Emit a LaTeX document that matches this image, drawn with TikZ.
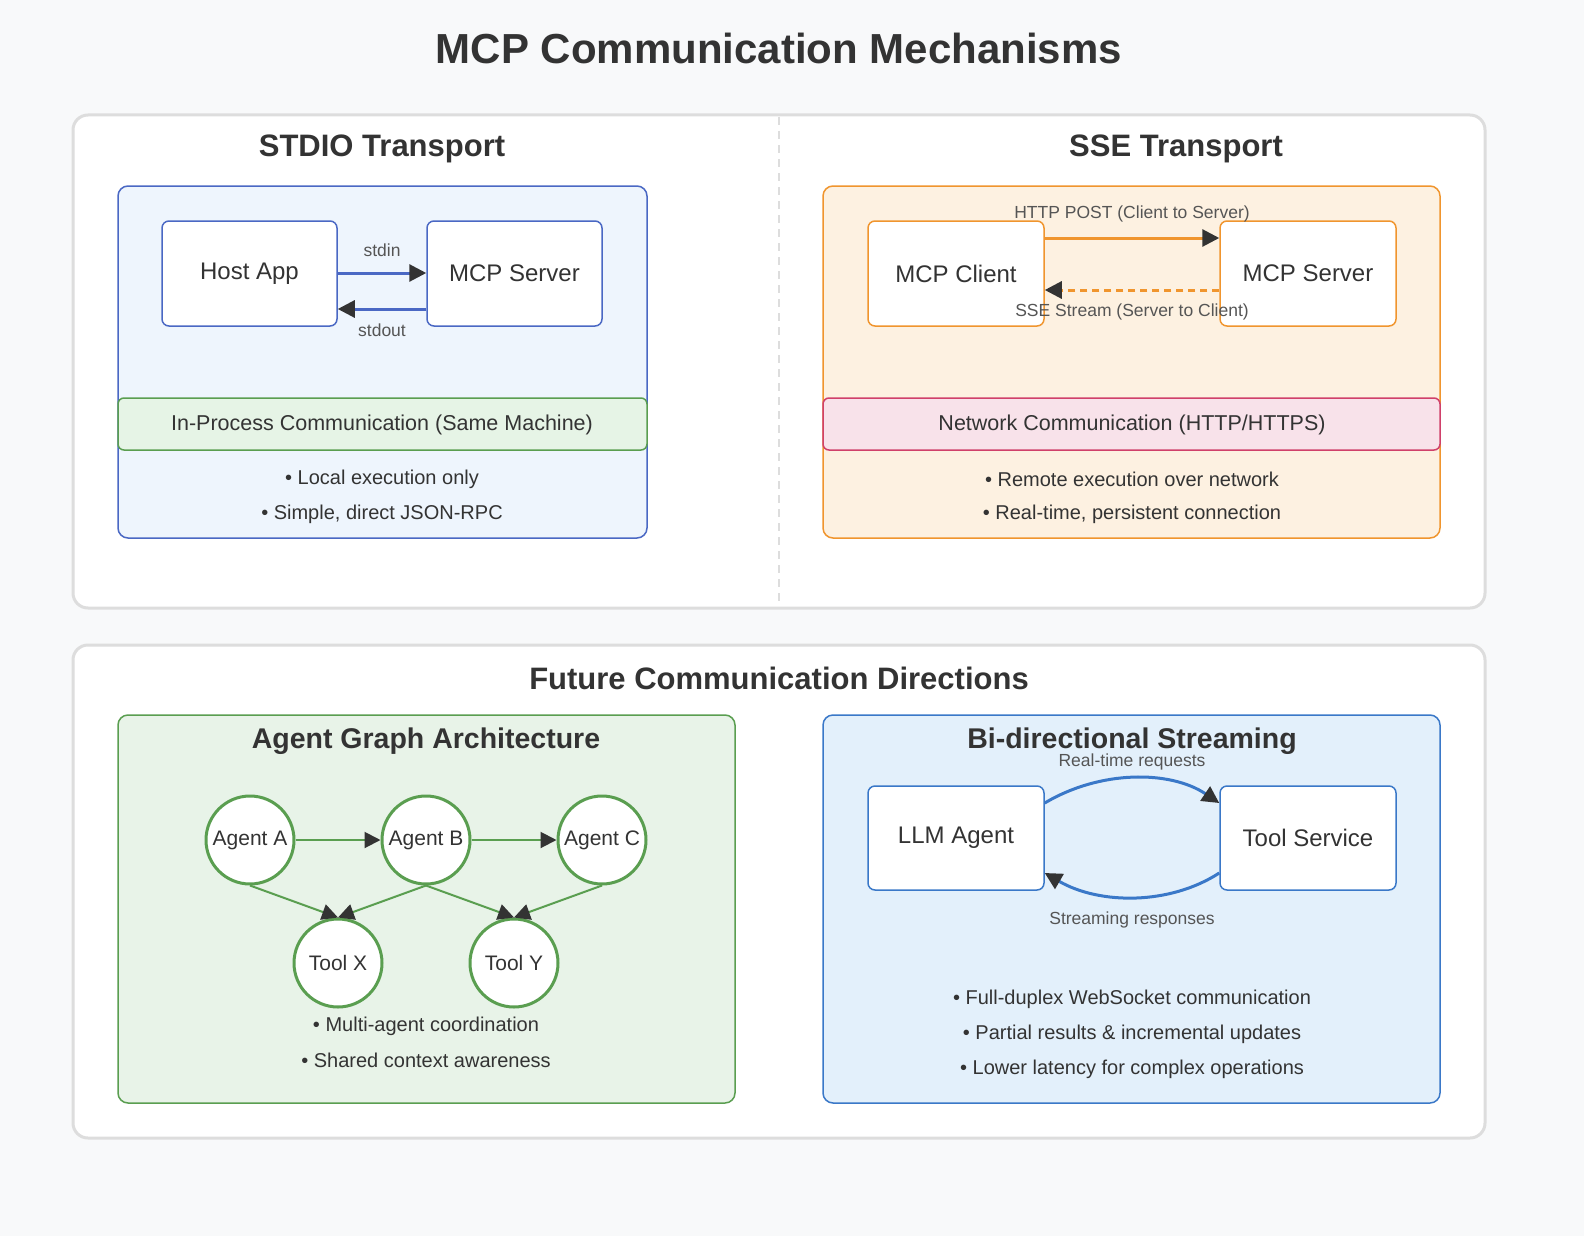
\documentclass[tikz,border=0pt]{standalone}
\usepackage{fontspec}
\setmainfont{Liberation Sans}
\usetikzlibrary{arrows.meta}
\definecolor{bg}{HTML}{F8F9FA}
\definecolor{panel}{HTML}{DDDDDD}
\definecolor{txt}{HTML}{333333}
\definecolor{sub}{HTML}{555555}
\definecolor{bl}{HTML}{4A68C4}
\definecolor{blfill}{HTML}{EEF5FD}
\definecolor{gr}{HTML}{5A9E50}
\definecolor{grfill}{HTML}{E8F3E8}
\definecolor{stripgr}{HTML}{E6F4E6}
\definecolor{or}{HTML}{F0952E}
\definecolor{orfill}{HTML}{FDF1E1}
\definecolor{pk}{HTML}{D0406A}
\definecolor{pkfill}{HTML}{F8E2EA}
\definecolor{bb}{HTML}{3A78C8}
\definecolor{bbfill}{HTML}{E3F0FB}
\tikzset{
  fs/.style={font=\fontsize{#1}{#1}\selectfont},
  panelbox/.style={draw=panel,line width=3pt,fill=white,rounded corners=15pt},
  box/.style={rounded corners=10pt,line width=1.5pt},
  inner/.style={draw=#1,fill=white,rounded corners=7pt,line width=1.5pt},
  lbl/.style={fs=24,text=txt},
  bul/.style={fs=20,text=txt},
  sm/.style={fs=17.5,text=sub},
  head/.style={font=\bfseries\fontsize{31}{31}\selectfont,text=txt},
  head2/.style={font=\bfseries\fontsize{28.5}{28.5}\selectfont,text=txt},
  arr/.style={line width=3pt,draw=#1,-{Triangle[length=17pt,width=17pt,color=txt]}},
  circ/.style={circle,draw=gr,fill=white,line width=3pt,minimum size=88pt,inner sep=0pt,fs=21,text=txt},
  garr/.style={line width=2pt,draw=gr,-{Triangle[length=16pt,width=16pt,color=txt]}}
}
\begin{document}
\begin{tikzpicture}[x=1pt,y=-1pt]
\fill[bg] (0,0) rectangle (1584,1236);
\node[font=\bfseries\fontsize{42}{42}\selectfont,text=txt] (title) at (779,48) {MCP Communication Mechanisms};
% top panel
\draw[panelbox] (73,115) rectangle (1485,608);
\draw[panel,line width=2.5pt,dash pattern=on 8pt off 6pt] (779,117) -- (779,606);
\node[head] (t1) at (382,149) {STDIO Transport};
\node[head] (t2) at (1176,149) {SSE Transport};
% STDIO
\draw[box,draw=bl,fill=blfill] (118,186) rectangle (647,538);
\node[inner=bl,minimum width=175pt,minimum height=105pt,lbl] (host) at (249.5,273.5) {Host App};
\node[inner=bl,minimum width=175pt,minimum height=105pt,lbl] (srv1) at (514.5,273.5) {MCP Server};
\draw[arr=bl] (host.east |- 0,273) -- (srv1.west |- 0,273);
\draw[arr=bl] (srv1.west |- 0,309) -- (host.east |- 0,309);
\node[sm] (stdin) at (382,250) {stdin};
\node[sm] (stdout) at (382,330) {stdout};
\draw[draw=gr,fill=stripgr,line width=1.5pt,rounded corners=6pt] (118,398) rectangle (647,450);
\node[fs=21.5,text=txt] (inp) at (382,425) {In-Process Communication (Same Machine)};
\node[bul] (b1) at (382,479) {• Local execution only};
\node[bul] (b2) at (382,514) {• Simple, direct JSON-RPC};
% SSE
\draw[box,draw=or,fill=orfill] (823,186) rectangle (1440,538);
\node[inner=or,minimum width=176pt,minimum height=105pt,lbl] (cli) at (956,273.5) {MCP Client};
\node[inner=or,minimum width=176pt,minimum height=105pt,lbl] (srv2) at (1308,273.5) {MCP Server};
\draw[arr=or] (cli.east |- 0,238) -- (srv2.west |- 0,238);
\draw[arr=or,dash pattern=on 7pt off 5pt] (srv2.west |- 0,290) -- (cli.east |- 0,290);
\node[sm] (post) at (1132,214) {HTTP POST (Client to Server)};
\node[sm] (sse) at (1132,312) {SSE Stream (Server to Client)};
\draw[draw=pk,fill=pkfill,line width=1.5pt,rounded corners=6pt] (823,398) rectangle (1440,450);
\node[fs=21.5,text=txt] (net) at (1132,425) {Network Communication (HTTP/HTTPS)};
\node[bul] (b3) at (1132,479) {• Remote execution over network};
\node[bul] (b4) at (1132,514) {• Real-time, persistent connection};
% bottom panel
\draw[panelbox] (73,645) rectangle (1485,1138);
\node[head] (t3) at (779,678) {Future Communication Directions};
\draw[box,draw=gr,fill=grfill] (118,715) rectangle (735,1103);
\node[head2] (t4) at (426,741) {Agent Graph Architecture};
\node[circ] (A) at (250,840) {Agent A};
\node[circ] (B) at (426,840) {Agent B};
\node[circ] (C) at (602,840) {Agent C};
\node[circ] (X) at (338,963) {Tool X};
\node[circ] (Y) at (514,963) {Tool Y};
\draw[garr] (A) -- (B);
\draw[garr] (B) -- (C);
\draw[garr] (A.south) -- (X.north);
\draw[garr] (B.south) -- (X.north);
\draw[garr] (B.south) -- (Y.north);
\draw[garr] (C.south) -- (Y.north);
\node[bul] (b5) at (426,1026) {• Multi-agent coordination};
\node[bul] (b6) at (426,1060) {• Shared context awareness};
\draw[box,draw=bb,fill=bbfill] (823,715) rectangle (1440,1103);
\node[head2] (t5) at (1132,741) {Bi-directional Streaming};
\node[inner=bb,minimum width=176pt,minimum height=104pt,lbl] (llm) at (956,838) {LLM Agent};
\node[inner=bb,minimum width=176pt,minimum height=104pt,lbl] (tool) at (1308,838) {Tool Service};
\draw[arr=bb] (llm.east |- 0,803) .. controls (1100,770) and (1170,770) .. (tool.west |- 0,803);
\draw[arr=bb] (tool.west |- 0,873) .. controls (1170,905) and (1100,905) .. (llm.east |- 0,873);
\node[sm] (rt) at (1132,762) {Real-time requests};
\node[sm] (sr) at (1132,920) {Streaming responses};
\node[bul] (b7) at (1132,999) {• Full-duplex WebSocket communication};
\node[bul] (b8) at (1132,1034) {• Partial results \& incremental updates};
\node[bul] (b9) at (1132,1069) {• Lower latency for complex operations};
\pgfresetboundingbox
\useasboundingbox (0,0) rectangle (1584,1236);
\end{tikzpicture}
\end{document}
